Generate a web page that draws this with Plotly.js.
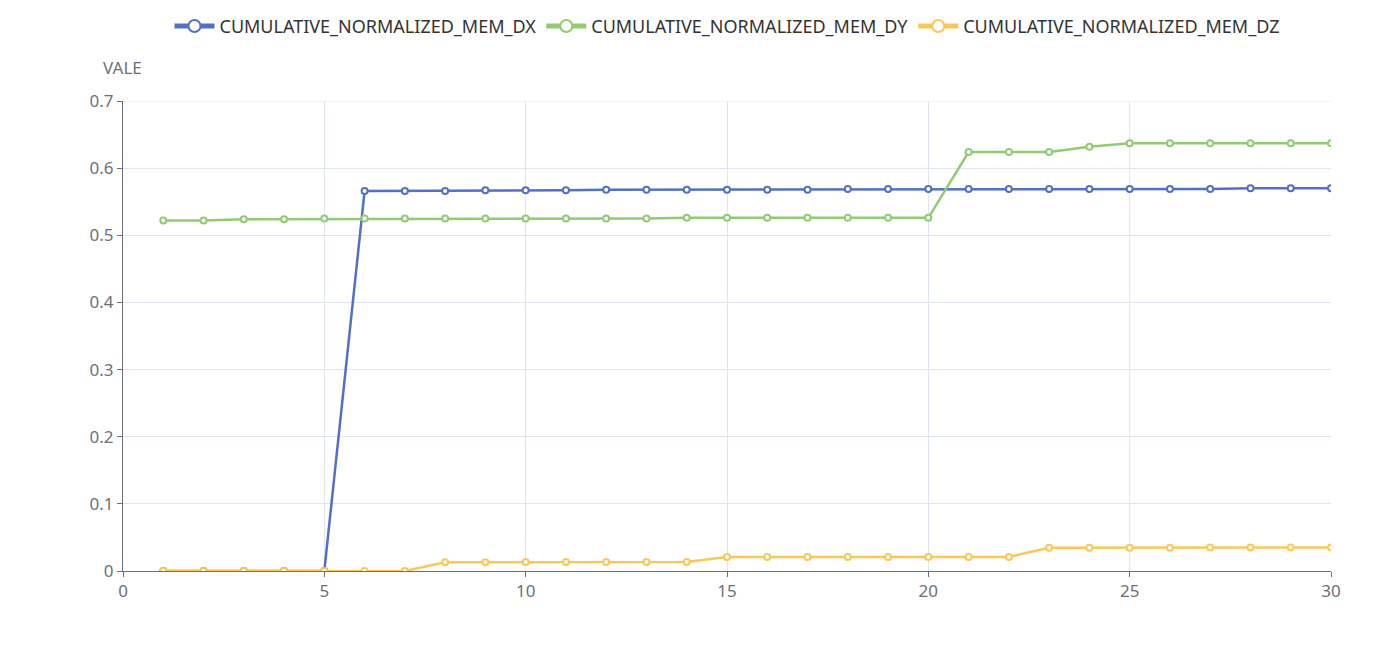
<!DOCTYPE html>
<html><head><meta charset="utf-8">
<script src="https://cdn.plot.ly/plotly-3.0.1.min.js"></script>
<style>html,body{margin:0;padding:0;background:#fff}#chart{width:1373px;height:648px}</style>
</head><body><div id="chart"></div>
<script>
const steps = [1,2,3,4,5,6,7,8,9,10,11,12,13,14,15,16,17,18,19,20,21,22,23,24,25,26,27,28,29,30];
const memDX = [0,0,0,0,0,0.566,0.566,0.566,0.567,0.567,0.567,0.568,0.568,0.568,0.568,0.568,0.568,0.569,0.569,0.569,0.569,0.569,0.569,0.569,0.569,0.569,0.569,0.570,0.570,0.570];
const memDY = [0.522,0.522,0.524,0.524,0.525,0.525,0.525,0.525,0.525,0.525,0.525,0.525,0.525,0.526,0.526,0.526,0.526,0.526,0.526,0.526,0.624,0.624,0.624,0.632,0.637,0.637,0.637,0.637,0.637,0.637];
const memDZ = [0,0,0,0,0,0,0,0.013,0.013,0.0135,0.0135,0.0135,0.0135,0.0135,0.021,0.021,0.021,0.021,0.021,0.021,0.021,0.021,0.0345,0.0345,0.0345,0.0345,0.035,0.035,0.035,0.035];
const names = ['CUMULATIVE_NORMALIZED_MEM_DX','CUMULATIVE_NORMALIZED_MEM_DY','CUMULATIVE_NORMALIZED_MEM_DZ'];
const colors = ['#5470c6','#91cc75','#fac858'];
const series = [memDX, memDY, memDZ];
const font = '"Noto Sans", "Open Sans", sans-serif';
const traces = series.map((ys,i)=>({
  x: steps, y: ys, name: names[i], type:'scatter', mode:'lines+markers',
  line:{color:colors[i], width:2.5},
  marker:{color:'#ffffff', size:6, line:{color:colors[i], width:2}}
}));
const layout = {
  width:1373, height:648,
  margin:{l:123, r:42, t:101, b:77},
  paper_bgcolor:'#fff', plot_bgcolor:'#fff',
  font:{family:font, color:'#6e7079', size:16},
  showlegend:true,
  legend:{orientation:'h', x:0.5, xanchor:'center', y:0.988, yref:'container', yanchor:'top', font:{size:18, color:'#333'}, itemsizing:'constant', itemwidth:40, tracegroupgap:0},
  xaxis:{range:[0,30], dtick:5, tick0:0, showgrid:true, gridcolor:'#e0e6f1', zeroline:false,
    showline:true, linecolor:'#6e7079', linewidth:1, ticks:'outside', ticklen:5, tickcolor:'#6e7079',
    tickfont:{size:17, color:'#6e7079'}, mirror:false},
  yaxis:{range:[0,0.7], dtick:0.1, tick0:0, showgrid:true, gridcolor:'#e0e6f1', zeroline:false,
    showline:true, linecolor:'#6e7079', linewidth:1, ticks:'outside', ticklen:5, tickcolor:'#6e7079',
    tickfont:{size:17, color:'#6e7079'}},
  shapes:[{type:'line', xref:'paper', yref:'y', x0:0, x1:1, y0:0.7, y1:0.7, line:{color:'#e0e6f1', width:1}, layer:'below'}],
  annotations:[{text:'VALE', xref:'paper', yref:'paper', x:0, y:1, xshift:-22, yshift:20, xanchor:'left', yanchor:'bottom', showarrow:false, font:{size:17, color:'#6e7079'}}]
};
Plotly.newPlot('chart', traces, layout, {displayModeBar:false, staticPlot:true});
</script></body></html>
